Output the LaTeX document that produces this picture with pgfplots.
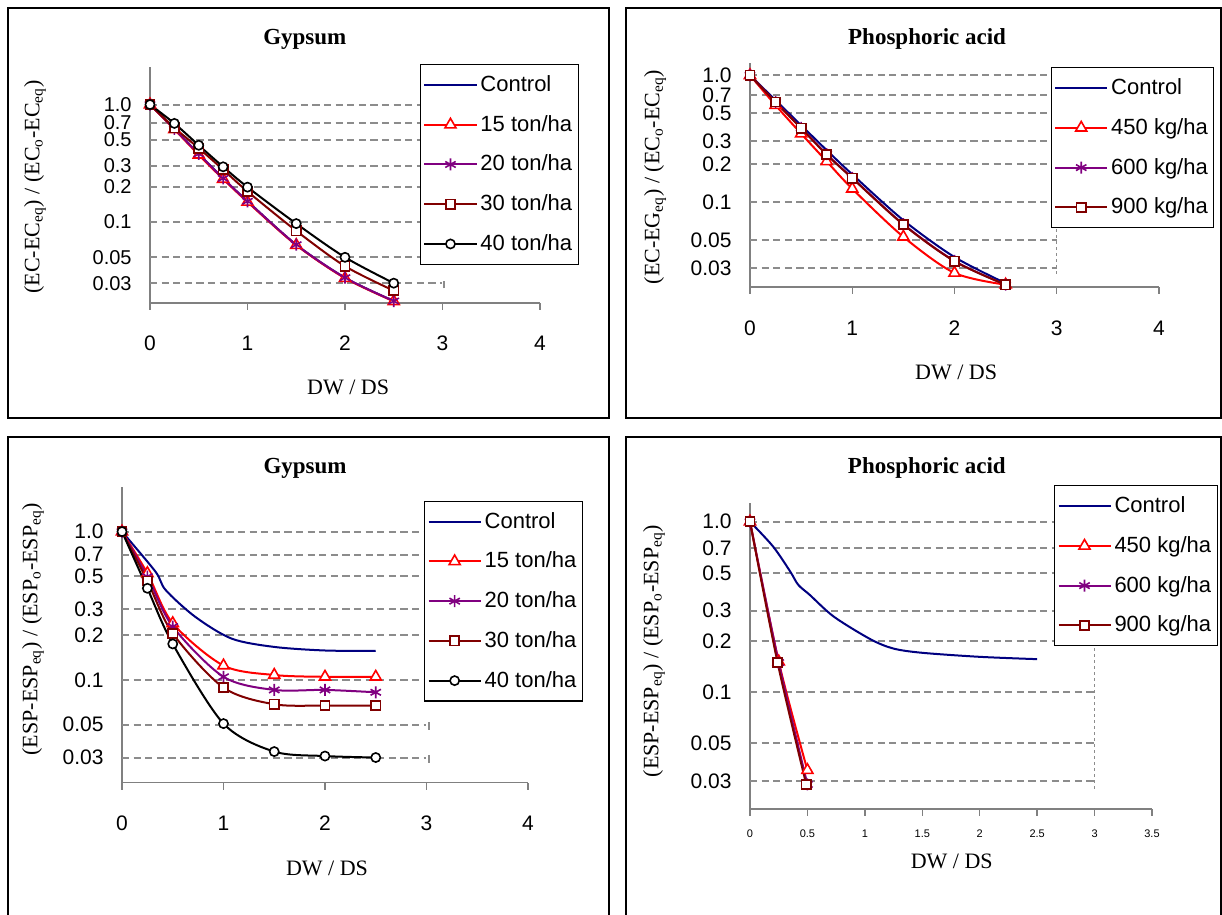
\documentclass[border=0pt]{standalone}
\usepackage{fontspec}
\setmainfont{Liberation Sans}
\newfontfamily\timesfont{Liberation Serif}
\usepackage{pgfplots}
\pgfplotsset{compat=1.18}

\definecolor{ctrl}{HTML}{000080}
\definecolor{purp}{HTML}{800080}
\definecolor{dred}{HTML}{800000}
\definecolor{gridgray}{HTML}{8C8C8C}
\definecolor{axgray}{HTML}{808080}

\tikzset{
  gridline/.style={draw=gridgray, line width=1pt, dash pattern=on 3.6pt off 2.2pt},
  endline/.style={draw=gridgray, line width=0.5pt, dash pattern=on 1.5pt off 1.5pt},
}

\pgfplotsset{
  scale only axis, clip=false,
  axis lines*=left,
  axis line style={draw=axgray, line width=0.7pt},
  tick align=outside, major tick length=3.5pt,
  xtick style={draw=axgray, line width=0.7pt},
  ytick style={draw=none},
  yminorticks=false,
  ytick={0.03,0.05,0.1,0.2,0.3,0.5,0.7,1},
  yticklabels={0.03,0.05,0.1,0.2,0.3,0.5,0.7,1.0},
  /pgf/number format/assume math mode=true,
  tick label style={font=\fontsize{10.5}{12}\selectfont},
  yticklabel style={inner sep=0pt, xshift=-5.5pt},
  title style={anchor=center, yshift=-8pt, font=\timesfont\bfseries\fontsize{11.5}{13}\selectfont},
  xlabel style={anchor=center, font=\timesfont\fontsize{11}{13}\selectfont},
  ylabel style={anchor=center, font=\timesfont\fontsize{11}{13}\selectfont},
  legend cell align=left,
  legend style={draw=black, fill=white, line width=0.6pt, anchor=north west,
    font=\fontsize{11}{13}\selectfont, inner xsep=1.5pt, inner ysep=4pt,
    row sep=7.4pt, nodes={inner sep=1.5pt}},
  legend image code/.code={\draw[mark repeat=2,mark phase=2,#1]
    plot coordinates {(0pt,0pt) (13pt,0pt) (26pt,0pt)};},
  every axis plot/.append style={line width=1pt, smooth},
  sctrl/.style={color=ctrl, no markers},
  sa/.style={color=red, mark=triangle*, mark size=3.2pt, mark options={fill=white, line width=0.8pt}},
  sb/.style={color=purp, mark=asterisk, mark size=3pt, mark options={line width=0.8pt}},
  sc/.style={color=dred, mark=square*, mark size=2.3pt, mark options={fill=white, line width=0.8pt}},
  sd/.style={color=black, mark=*, mark size=2.3pt, mark options={fill=white, line width=0.8pt}},
}

% horizontal reference lines up to DW/DS = 3
\newcommand\refgrid{%
  \pgfplotsinvokeforeach{1,0.7,0.5,0.3,0.2,0.1,0.05,0.03}{%
    \draw[gridline] (axis cs:0,##1) -- (axis cs:3,##1);}}
\newcommand\shortends{%
  \pgfplotsinvokeforeach{1,0.7,0.5,0.3,0.2,0.1,0.05,0.03}{%
    \draw[gridline] ([yshift=-2.5pt]axis cs:3.02,##1) -- ([yshift=2.5pt]axis cs:3.02,##1);}}

\begin{document}
\begin{tikzpicture}[x=0.5pt,y=0.5pt]
\useasboundingbox (0,0) rectangle (1222,915);

% panel frames
\draw[line width=0.8pt] (8,907) rectangle (609,497);
\draw[line width=0.8pt] (626,907) rectangle (1221,497);
\draw[line width=0.8pt] (8,-10) -- (8,478) -- (609,478) -- (609,-10);
\draw[line width=0.8pt] (626,-10) -- (626,478) -- (1221,478) -- (1221,-10);

% ---------- EC, gypsum ----------
\begin{axis}[ymode=log, at={(75pt,306pt)}, anchor=south west,
  width=195pt, height=118pt,
  xmin=0, xmax=4, ymin=0.0204, ymax=2.09, xtick={0,1,2,3,4},
  xticklabel style={yshift=-9.4pt},
  yticklabel style={font=\fontsize{10}{11}\selectfont},
  title={Gypsum}, title style={at={(axis description cs:0.397,1.136)}},
  xlabel={DW / DS}, xlabel style={at={(axis description cs:0.508,-0.356)}},
  ylabel={(EC-EC\textsubscript{eq}) / (EC\textsubscript{o}-EC\textsubscript{eq})},
  ylabel style={at={(axis description cs:-0.295,0.492)}},
  legend style={at={(axis description cs:0.692,1.013)}},
]
\refgrid
\shortends
\addplot[sctrl] coordinates {(0,1) (0.25,0.62) (0.5,0.38) (0.75,0.235) (1,0.15) (1.5,0.064) (2,0.0335) (2.5,0.0212)};
\addlegendentry{Control}
\addplot[sa] coordinates {(0,1) (0.25,0.615) (0.5,0.373) (0.75,0.232) (1,0.148) (1.5,0.0635) (2,0.0332) (2.5,0.0211)};
\addlegendentry{15 ton/ha}
\addplot[sb] coordinates {(0,1) (0.25,0.62) (0.5,0.38) (0.75,0.235) (1,0.15) (1.5,0.064) (2,0.0335) (2.5,0.0212)};
\addlegendentry{20 ton/ha}
\addplot[sc] coordinates {(0,1) (0.25,0.635) (0.5,0.425) (0.75,0.279) (1,0.182) (1.5,0.084) (2,0.042) (2.5,0.026)};
\addlegendentry{30 ton/ha}
\addplot[sd] coordinates {(0,1) (0.25,0.691) (0.5,0.45) (0.75,0.295) (1,0.198) (1.5,0.0968) (2,0.05) (2.5,0.0301)};
\addlegendentry{40 ton/ha}
\end{axis}

% ---------- EC, phosphoric acid ----------
\begin{axis}[ymode=log, at={(375pt,314pt)}, anchor=south west,
  width=204.5pt, height=112pt,
  xmin=0, xmax=4, ymin=0.0213, ymax=1.25, xtick={0,1,2,3,4},
  xticklabel style={yshift=-9.9pt},
  title={Phosphoric acid}, title style={at={(axis description cs:0.433,1.125)}},
  xlabel={DW / DS}, xlabel style={at={(axis description cs:0.504,-0.379)}},
  ylabel={(EC-EG\textsubscript{eq}) / (EC\textsubscript{o}-EC\textsubscript{eq})},
  ylabel style={at={(axis description cs:-0.232,0.491)}},
  legend style={at={(axis description cs:0.735,0.982)}},
]
\refgrid
\draw[endline] (axis cs:3,0.027) -- (axis cs:3,1);
\addplot[sctrl] coordinates {(0,1) (0.25,0.635) (0.5,0.403) (0.75,0.256) (1,0.165) (1.5,0.0717) (2,0.0367) (2.5,0.0228)};
\addlegendentry{Control}
\addplot[sa] coordinates {(0,1) (0.25,0.58) (0.5,0.346) (0.75,0.209) (1,0.127) (1.5,0.053) (2,0.0275) (2.5,0.0222)};
\addlegendentry{450 kg/ha}
\addplot[sb] coordinates {(0,1) (0.25,0.616) (0.5,0.384) (0.75,0.238) (1,0.155) (1.5,0.0667) (2,0.0342) (2.5,0.0222)};
\addlegendentry{600 kg/ha}
\addplot[sc] coordinates {(0,1) (0.25,0.614) (0.5,0.382) (0.75,0.236) (1,0.154) (1.5,0.0662) (2,0.034) (2.5,0.0222)};
\addlegendentry{900 kg/ha}
\end{axis}

% ---------- ESP, gypsum ----------
\begin{axis}[ymode=log, at={(61pt,66.15pt)}, anchor=south west,
  width=203pt, height=147.7pt,
  xmin=0, xmax=4, ymin=0.0203, ymax=1.99, xtick={0,1,2,3,4},
  xticklabel style={yshift=-9.6pt},
  title={Gypsum}, title style={at={(axis description cs:0.451,1.076)}},
  xlabel={DW / DS}, xlabel style={at={(axis description cs:0.505,-0.289)}},
  ylabel={(ESP-ESP\textsubscript{eq}) / (ESP\textsubscript{o}-ESP\textsubscript{eq})},
  ylabel style={at={(axis description cs:-0.219,0.52)}},
  legend style={at={(axis description cs:0.744,0.955)}},
]
\refgrid
\shortends
\addplot[sctrl] coordinates {(0,1) (0.33,0.537) (0.43,0.404) (0.72,0.267) (1.08,0.19) (1.5,0.167) (2,0.158) (2.5,0.157)};
\addlegendentry{Control}
\addplot[sa] coordinates {(0,1) (0.25,0.524) (0.5,0.241) (1,0.125) (1.5,0.108) (2,0.105) (2.5,0.105)};
\addlegendentry{15 ton/ha}
\addplot[sb] coordinates {(0,1) (0.25,0.497) (0.5,0.229) (1,0.105) (1.5,0.0857) (2,0.0857) (2.5,0.0826)};
\addlegendentry{20 ton/ha}
\addplot[sc] coordinates {(0,1) (0.25,0.465) (0.5,0.206) (1,0.0888) (1.5,0.0686) (2,0.0672) (2.5,0.0672)};
\addlegendentry{30 ton/ha}
\addplot[sd] coordinates {(0,1) (0.25,0.415) (0.5,0.175) (1,0.0508) (1.5,0.0329) (2,0.0307) (2.5,0.03)};
\addlegendentry{40 ton/ha}
\end{axis}

% ---------- ESP, phosphoric acid ----------
\begin{axis}[ymode=log, at={(375pt,53pt)}, anchor=south west,
  width=201pt, height=152.8pt,
  xmin=0, xmax=3.5, ymin=0.0206, ymax=1.28, xtick={0,0.5,1,1.5,2,2.5,3,3.5},
  xticklabel style={font=\fontsize{5.5}{6}\selectfont, yshift=-3.2pt},
  title={Phosphoric acid}, title style={at={(axis description cs:0.44,1.129)}},
  xlabel={DW / DS}, xlabel style={at={(axis description cs:0.502,-0.173)}},
  ylabel={(ESP-ESP\textsubscript{eq}) / (ESP\textsubscript{o}-ESP\textsubscript{eq})},
  ylabel style={at={(axis description cs:-0.239,0.517)}},
  legend style={at={(axis description cs:0.756,1.06)}},
]
\refgrid
\draw[endline] (axis cs:3,0.027) -- (axis cs:3,1);
\addplot[sctrl] coordinates {(0,1) (0.2,0.716) (0.35,0.51) (0.42,0.426) (0.52,0.372) (0.73,0.277) (1.05,0.204) (1.25,0.18) (1.5,0.17) (2,0.161) (2.5,0.156)};
\addlegendentry{Control}
\addplot[sa] coordinates {(0,1) (0.25,0.151) (0.5,0.0348)};
\addlegendentry{450 kg/ha}
\addplot[sb] coordinates {(0,1) (0.25,0.149) (0.5,0.0287)};
\addlegendentry{600 kg/ha}
\addplot[sc] coordinates {(0,1) (0.24,0.149) (0.49,0.0287)};
\addlegendentry{900 kg/ha}
\end{axis}
\end{tikzpicture}
\end{document}
